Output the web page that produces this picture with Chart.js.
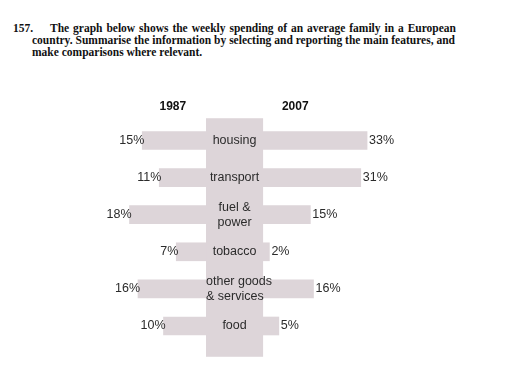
<!DOCTYPE html>
<html>
<head>
<meta charset="utf-8">
<script src="https://cdn.jsdelivr.net/npm/chart.js@4"></script>
<style>
  body { margin: 0; background: #fff; width: 512px; height: 377px; overflow: hidden; position: relative; }
  #wrap { position: absolute; left: 0; top: 0; width: 512px; height: 377px; }
  .q { position: absolute; font: bold 11.5px "Liberation Serif", serif; color: #111; white-space: nowrap; line-height: 12px; }
  .just { text-align: justify; text-align-last: justify; white-space: normal; }
</style>
</head>
<body>
<div class="q" style="left:13px;top:22px;">157.</div>
<div class="q just" style="left:50px;top:22px;width:406px;">The graph below shows the weekly spending of an average family in a European</div>
<div class="q just" style="left:32px;top:34px;width:423px;">country. Summarise the information by selecting and reporting the main features, and</div>
<div class="q" style="left:32px;top:46px;">make comparisons where relevant.</div>
<div id="wrap"><canvas id="myChart" width="512" height="377"></canvas></div>
<script>
// spending categories, top to bottom
let categories = [["housing"], ["transport"], ["fuel &", "power"], ["tobacco"], ["other goods", "& services"], ["food"]];
let years = ["1987", "2007"];
let spend1987 = [15, 11, 18, 7, 16, 10];
let spend2007 = [33, 31, 15, 2, 16, 5];

var barColor = "rgb(221,213,217)";
var textColor = "#2b2b2b";

let leftData = spend1987.map((v, i) => ({ x: v, y: i }));
let rightData = spend2007.map((v, i) => ({ x: v, y: i }));

// centre column + text labels
const butterfly = {
  id: "butterfly",
  beforeDatasetsDraw(chart) {
    let c = chart.ctx;
    let xl = chart.scales.xL, xr = chart.scales.xR, y = chart.scales.y;
    let x0 = xl.getPixelForValue(0), x1 = xr.getPixelForValue(0);
    let top = y.getPixelForValue(-0.6), bot = y.getPixelForValue(5.83);
    c.save();
    c.fillStyle = barColor;
    c.fillRect(x0, top, x1 - x0, bot - top);
    c.restore();
  },
  afterDatasetsDraw(chart) {
    let c = chart.ctx;
    let xl = chart.scales.xL, xr = chart.scales.xR, y = chart.scales.y;
    let x0 = xl.getPixelForValue(0), x1 = xr.getPixelForValue(0);
    c.save();
    c.textBaseline = "middle";
    // year headings
    c.font = "bold 12px 'Liberation Sans', Arial, sans-serif";
    c.fillStyle = "#111";
    c.textAlign = "center";
    let hy = y.getPixelForValue(-0.9);
    c.fillText(years[0], xl.getPixelForValue(7.8), hy);
    c.fillText(years[1], xr.getPixelForValue(10.2), hy);
    // category names
    c.font = "12.5px 'Liberation Sans', Arial, sans-serif";
    c.fillStyle = textColor;
    categories.forEach((lines, i) => {
      let cy = y.getPixelForValue(i);
      let lh = 15;
      lines.forEach((t, k) => {
        let ty = cy + (k - (lines.length - 1) / 2) * lh;
        let w = c.measureText(t).width;
        if (w > x1 - x0) { c.textAlign = "left"; c.fillText(t, x0, ty); }
        else { c.textAlign = "center"; c.fillText(t, (x0 + x1) / 2, ty); }
      });
    });
    // values at bar ends
    let m0 = chart.getDatasetMeta(0), m1 = chart.getDatasetMeta(1);
    c.textAlign = "right";
    m0.data.forEach((b, i) => c.fillText(spend1987[i] + "%", b.x + 2, b.y));
    c.textAlign = "left";
    m1.data.forEach((b, i) => c.fillText(spend2007[i] + "%", b.x + 2, b.y));
    c.restore();
  }
};

new Chart("myChart", {
  type: "bar",
  data: {
    datasets: [
      { label: years[0], data: leftData, xAxisID: "xL", backgroundColor: barColor, grouped: false, barThickness: 18 },
      { label: years[1], data: rightData, xAxisID: "xR", backgroundColor: barColor, grouped: false, barThickness: 18 }
    ]
  },
  options: {
    indexAxis: "y",
    responsive: false,
    animation: false,
    layout: { padding: 0 },
    plugins: { legend: { display: false }, tooltip: { enabled: false } },
    scales: {
      y: { type: "linear", reverse: true, offset: false, min: -3.787, max: 6.375, display: false },
      xL: { type: "linear", reverse: true, min: -72.0, max: 48.47, display: false },
      xR: { type: "linear", min: -83.5, max: 79.0, display: false }
    }
  },
  plugins: [butterfly]
});
</script>
</body>
</html>
